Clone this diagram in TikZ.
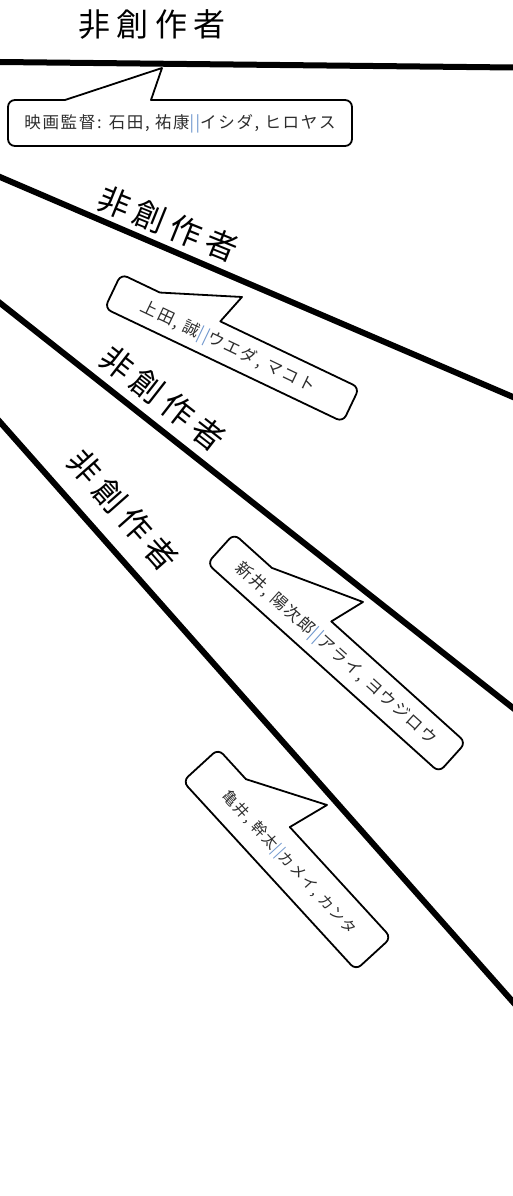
\documentclass[tikz,border=0pt]{standalone}
\usepackage{fontspec}
\newfontfamily\jpbig[LetterSpace=20]{Noto Sans CJK JP}
\newfontfamily\jpsmall[LetterSpace=10]{Noto Sans CJK JP}
\definecolor{sepblue}{RGB}{110,150,205}
\definecolor{txtgray}{RGB}{45,45,45}
\tikzset{
  rel/.style={line width=6pt, shorten <=-12pt, shorten >=-12pt},
  bubble/.style={draw=black, line width=1.8pt, fill=white, line join=round},
  lbl/.style={font=\jpbig\fontsize{32}{36}\selectfont, inner sep=0pt},
  ctext/.style={font=\jpsmall\fontsize{16.5}{20}\selectfont, text=txtgray, inner sep=0pt},
  ctextsm/.style={font=\jpsmall\fontsize{15}{18}\selectfont, text=txtgray, inner sep=0pt},
}
% #1 width, #2 height, #3 left pointer base, #4 right pointer base, #5 tip
\newcommand\bubbleshape[5]{%
  \draw[bubble] (#3,-#2/2) -- (#5) -- (#4,-#2/2) -- (#1/2-7,-#2/2)
    arc[start angle=-90,end angle=0,radius=7] -- (#1/2,#2/2-7)
    arc[start angle=0,end angle=90,radius=7] -- (-#1/2+7,#2/2)
    arc[start angle=90,end angle=180,radius=7] -- (-#1/2,-#2/2+7)
    arc[start angle=180,end angle=270,radius=7] -- cycle;}
\begin{document}
\begin{tikzpicture}[x=1pt,y=-1pt]
\useasboundingbox (0,0) rectangle (513,1196);
\clip (0,0) rectangle (513,1196);

% relation lines
\coordinate (l1a) at (0,62);   \coordinate (l1b) at (513,67.5);
\coordinate (l2a) at (0,177);  \coordinate (l2b) at (513,397);
\coordinate (l3a) at (0,303);  \coordinate (l3b) at (513,708);
\coordinate (l4a) at (0,422);  \coordinate (l4b) at (513,1002);
\draw[rel] (l1a) -- (l1b);
\draw[rel] (l2a) -- (l2b);
\draw[rel] (l3a) -- (l3b);
\draw[rel] (l4a) -- (l4b);

% labels
\node[lbl] (n1) at (152,25) {非創作者};
\node[lbl, rotate=-22] (n2) at (168,224) {非創作者};
\node[lbl, rotate=-38] (n3) at (163,398) {非創作者};
\node[lbl, rotate=-48.5] (n4) at (123,510) {非創作者};

% pointer tips
\coordinate (t1) at (162,68);
\coordinate (t2) at (242,297);
\coordinate (t3) at (363,602);
\coordinate (t4) at (327,805);

% callout 1
\begin{scope}[shift={(180,123)}]
  \bubbleshape{344}{46}{-115}{-29}{t1}
  \node[ctext, transform shape] (c1) at (0,1) {映画監督: 石田, 祐康{\color{sepblue}||}イシダ, ヒロヤス};
\end{scope}

% callout 2
\begin{scope}[shift={(232,348)}, rotate=-25.5]
  \bubbleshape{264}{38}{-89}{-22}{t2}
  \node[ctext, transform shape] (c2) at (-4,1) {上田, 誠{\color{sepblue}||}ウエダ, マコト};
\end{scope}

% callout 3
\begin{scope}[shift={(336.5,653)}, rotate=-42]
  \bubbleshape{312}{40}{-105}{-25}{t3}
  \node[ctext, transform shape] (c3) at (0,1) {新井, 陽次郎{\color{sepblue}||}アライ, ヨウジロウ};
\end{scope}

% callout 4
\begin{scope}[shift={(287,859.5)}, rotate=-47.5]
  \bubbleshape{256}{48}{-87}{-22}{t4}
  \node[ctextsm, transform shape] (c4) at (4,1) {亀井, 幹太{\color{sepblue}||}カメイ, カンタ};
\end{scope}
\end{tikzpicture}
\end{document}
